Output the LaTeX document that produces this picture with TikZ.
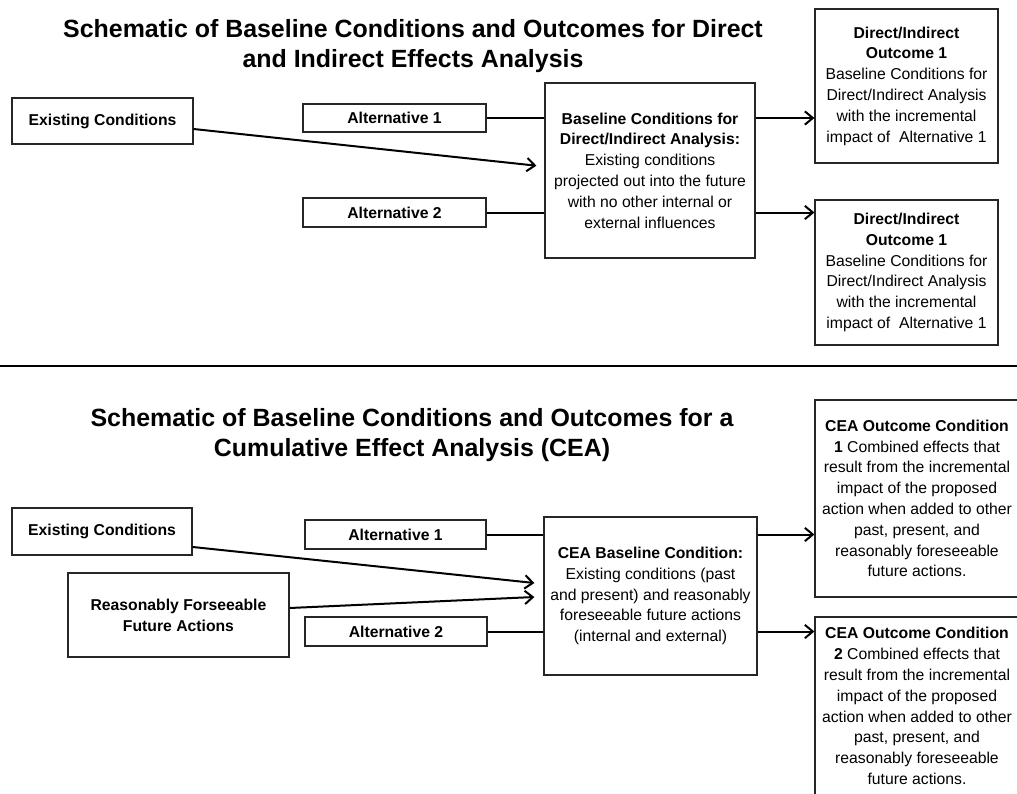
\documentclass[tikz,border=0pt]{standalone}
\usepackage{fontspec}
\setmainfont{Liberation Sans}
\usetikzlibrary{arrows.meta}

\begin{document}
\begin{tikzpicture}[x=0.75pt,y=-0.75pt,
  box/.style={draw=black!85,line width=0.9pt,align=center,inner sep=0pt,
    font=\fontsize{11.8}{15.6}\selectfont},
  lbl/.style={box,font=\fontsize{11.8}{15.6}\selectfont\bfseries},
  ttl/.style={align=center,font=\fontsize{18.7}{22.5}\selectfont\bfseries},
  conn/.style={line width=1.5pt},
  arr/.style={conn,-{Straight Barb[length=6pt,width=10pt]}}]

\clip (0,0) rectangle (1017,793);

%% direct / indirect
\node[ttl] (ttlA) at (413,46) {Schematic of Baseline Conditions and Outcomes for Direct\\and Indirect Effects Analysis};

\node[lbl,minimum width=181*0.75pt,minimum height=46*0.75pt] (exist1) at (102.5,121) {Existing Conditions};
\node[lbl,minimum width=183*0.75pt,minimum height=28*0.75pt] (altA1) at (394.5,118) {Alternative 1};
\node[lbl,minimum width=183*0.75pt,minimum height=29*0.75pt] (altB1) at (394.5,212.5) {Alternative 2};
\node[box,minimum width=210*0.75pt,minimum height=175*0.75pt] (base1) at (650,170.5)
  {\textbf{Baseline Conditions for}\\\textbf{Direct/Indirect Analysis:}\\Existing conditions\\projected out into the future\\with no other internal or\\external influences};
\node[box,minimum width=183*0.75pt,minimum height=154*0.75pt] (outA1) at (906.5,86)
  {\textbf{Direct/Indirect}\\\textbf{Outcome 1}\\Baseline Conditions for\\Direct/Indirect Analysis\\with the incremental\\impact of~ Alternative 1};
\node[box,minimum width=183*0.75pt,minimum height=145*0.75pt] (outB1) at (906.5,272.5)
  {\textbf{Direct/Indirect}\\\textbf{Outcome 1}\\Baseline Conditions for\\Direct/Indirect Analysis\\with the incremental\\impact of~ Alternative 1};

\draw[conn] (altA1.east) -- (altA1.east -| base1.west);
\draw[conn] (altB1.east) -- (altB1.east -| base1.west);
\draw[arr] (altA1.east -| base1.east) -- (altA1.east -| outA1.west);
\draw[arr] (altB1.east -| base1.east) -- (altB1.east -| outB1.west);
\draw[arr] ([yshift=-6pt]exist1.east) -- ([xshift=-6pt,yshift=3.6pt]base1.west);

\draw[line width=2.2pt] (0,366) -- (1017,366);

%% cumulative
\node[ttl] (ttlB) at (412,435) {Schematic of Baseline Conditions and Outcomes for a\\Cumulative Effect Analysis (CEA)};

\node[lbl,minimum width=180*0.75pt,minimum height=47*0.75pt] (exist2) at (102,531.5) {Existing Conditions};
\node[lbl,minimum width=221*0.75pt,minimum height=84*0.75pt] (reas2) at (178.5,615) {Reasonably Forseeable\\Future Actions};
\node[lbl,minimum width=181*0.75pt,minimum height=29*0.75pt] (altA2) at (395.5,534.5) {Alternative 1};
\node[lbl,minimum width=182*0.75pt,minimum height=29*0.75pt] (altB2) at (396,631.5) {Alternative 2};
\node[box,minimum width=213*0.75pt,minimum height=158*0.75pt] (base2) at (650.5,596)
  {\textbf{CEA Baseline Condition:}\\Existing conditions (past\\and present) and reasonably\\foreseeable future actions\\(internal and external)};
\node[box,minimum width=204*0.75pt,minimum height=197*0.75pt] (outA2) at (917,498.5)
  {\textbf{CEA Outcome Condition}\\\textbf{1} Combined effects that\\result from the incremental\\impact of the proposed\\action when added to other\\past, present, and\\reasonably foreseeable\\future actions.};
\node[box,minimum width=204*0.75pt,minimum height=178*0.75pt] (outB2) at (917,706)
  {\textbf{CEA Outcome Condition}\\\textbf{2} Combined effects that\\result from the incremental\\impact of the proposed\\action when added to other\\past, present, and\\reasonably foreseeable\\future actions.};

\draw[conn] (altA2.east) -- (altA2.east -| base2.west);
\draw[conn] (altB2.east) -- (altB2.east -| base2.west);
\draw[arr] (altA2.east -| base2.east) -- (altA2.east -| outA2.west);
\draw[arr] (altB2.east -| base2.east) -- (altB2.east -| outB2.west);
\draw[arr] ([yshift=-11.6pt]exist2.east) -- ([xshift=-6.75pt,yshift=9.75pt]base2.west);
\draw[arr] ([yshift=5.25pt]reas2.east) -- ([xshift=-6.75pt,yshift=-0.75pt]base2.west);
\end{tikzpicture}
\end{document}
